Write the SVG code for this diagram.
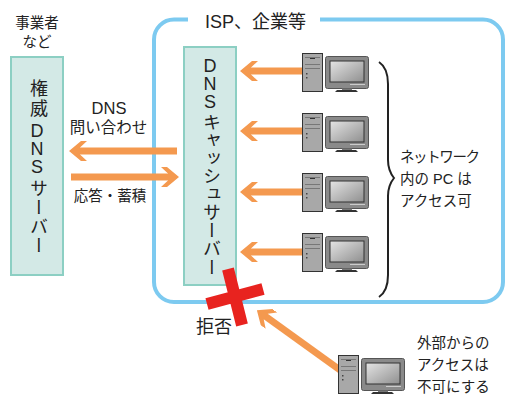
<svg xmlns="http://www.w3.org/2000/svg" xmlns:xlink="http://www.w3.org/1999/xlink" width="517" height="406" viewBox="0 0 517 406">
<style>
text{font-family:"Liberation Sans","Noto Sans CJK JP",sans-serif;fill:#222;font-size:14.5px;text-anchor:middle}
.l{text-anchor:start}
.n{text-anchor:start;letter-spacing:-1.400px}
.q{font-size:15.500px}
.d{font-size:16.500px}
.isp{font-size:18px;text-anchor:start}
.big{font-size:18px}
.v{font-size:18px;text-anchor:start;writing-mode:vertical-rl;text-orientation:upright}
.box{fill:#d3e9e6;stroke:#8ccfc3;stroke-width:2}
.a{fill:none;stroke:#f4994f;stroke-width:7;marker-end:url(#head)}
</style>
<defs>
<marker id="head" viewBox="0 0 18 20" refX="8" refY="10" markerWidth="18" markerHeight="20" markerUnits="userSpaceOnUse" orient="auto">
<path d="M18 10L6 0H0L7 6.500V13.500L0 20H6Z" fill="#f4994f"/>
</marker>
<linearGradient id="scr" x1="0" y1="0" x2="1" y2="1"><stop offset="0" stop-color="#e4e4e4"/><stop offset="1" stop-color="#8f8f8f"/></linearGradient>
<g id="pc">
<rect x="0.500" y="0.500" width="20" height="38" fill="#a8a8a8" stroke="#333"/>
<rect x="3" y="4" width="15" height="1" fill="#777"/>
<rect x="8" y="5" width="5" height="1" fill="#333"/>
<rect x="3" y="11" width="15" height="1" fill="#777"/>
<rect x="3" y="15" width="15" height="1" fill="#777"/>
<rect x="4" y="20" width="1.500" height="1.500" fill="#444"/>
<rect x="4" y="24" width="1.500" height="1.500" fill="#444"/>
<rect x="23.500" y="3.500" width="43" height="32" rx="2" fill="#8a8a8a" stroke="#555"/>
<rect x="28" y="8" width="34" height="21" fill="url(#scr)" stroke="#333"/>
<rect x="48" y="31" width="15" height="1" fill="#ccc"/>
<rect x="40" y="35.500" width="10" height="1.500" fill="#777"/>
<path d="M35 37H54L56 39H33Z" fill="#333"/>
</g>
</defs>
<path id="isp-frame" d="M188 19.500H174A20 20 0 0 0 154 39.500V282A20 20 0 0 0 174 302H483A20 20 0 0 0 503 282V39.500A20 20 0 0 0 483 19.500H320" fill="none" stroke="#7dcaf0" stroke-width="4"/>
<g id="labels">
<text class="isp" x="205" y="28">ISP、企業等</text>
<text x="37" y="28">事業者</text>
<text x="37" y="47">など</text>
<text class="d" x="109" y="114">DNS</text>
<text class="q" x="108.500" y="133">問い合わせ</text>
<text x="110" y="201">応答・蓄積</text>
<text class="n" x="400" y="162">ネットワーク</text>
<text class="l" x="400" y="184">内の PC は</text>
<text class="l" x="400" y="206">アクセス可</text>
<text class="big" x="214" y="333">拒否</text>
<text class="l" x="417" y="348">外部からの</text>
<text class="l" x="417" y="370">アクセスは</text>
<text class="l" x="417" y="392">不可にする</text>
</g>
<g id="auth-dns">
<rect class="box" x="11" y="57" width="52" height="218"/>
<text class="v" x="37" y="79">権</text>
<text class="v" x="37" y="99">威</text>
<text class="v" x="37" y="121">D</text>
<text class="v" x="37" y="139">N</text>
<text class="v" x="37" y="157">S</text>
<text class="v" x="37" y="179">サ</text>
<text class="v" x="37" y="198">ー</text>
<text class="v" x="37" y="217">バ</text>
<text class="v" x="37" y="236">ー</text>
</g>
<g id="cache-dns">
<rect class="box" x="184" y="47" width="52" height="238"/>
<text class="v" x="210" y="56">D</text>
<text class="v" x="210" y="74">N</text>
<text class="v" x="210" y="92">S</text>
<text class="v" x="210" y="113">キ</text>
<text class="v" x="210" y="131">ャ</text>
<text class="v" x="210" y="149">ッ</text>
<text class="v" x="210" y="167">シ</text>
<text class="v" x="210" y="185">ュ</text>
<text class="v" x="210" y="203">サ</text>
<text class="v" x="210" y="221">ー</text>
<text class="v" x="210" y="239">バ</text>
<text class="v" x="210" y="258">ー</text>
</g>
<g id="connectors">
<path class="a" d="M302 71H250"/>
<path class="a" d="M302 131H250"/>
<path class="a" d="M302 192H250"/>
<path class="a" d="M302 252H250"/>
<path class="a" d="M177 151H79"/>
<path class="a" d="M71 177H169"/>
<path class="a" d="M340 370L265 316"/>
</g>
<g id="pc1"><use xlink:href="#pc" href="#pc" x="302" y="53"/></g>
<g id="pc2"><use xlink:href="#pc" href="#pc" x="302" y="113"/></g>
<g id="pc3"><use xlink:href="#pc" href="#pc" x="302" y="173"/></g>
<g id="pc4"><use xlink:href="#pc" href="#pc" x="302" y="233"/></g>
<g id="pc5"><use xlink:href="#pc" href="#pc" x="338" y="355"/></g>
<path id="brace" d="M379 62C385 66 388 73 388 84V160C388 168 390 173 394 178C390 183 388 188 388 196V275C388 286 385 293 379 297" fill="none" stroke="#222" stroke-width="2"/>
<path id="deny" d="M228 269L242 325M207 304L263 289" fill="none" stroke="#e8231f" stroke-width="12"/>
</svg>
